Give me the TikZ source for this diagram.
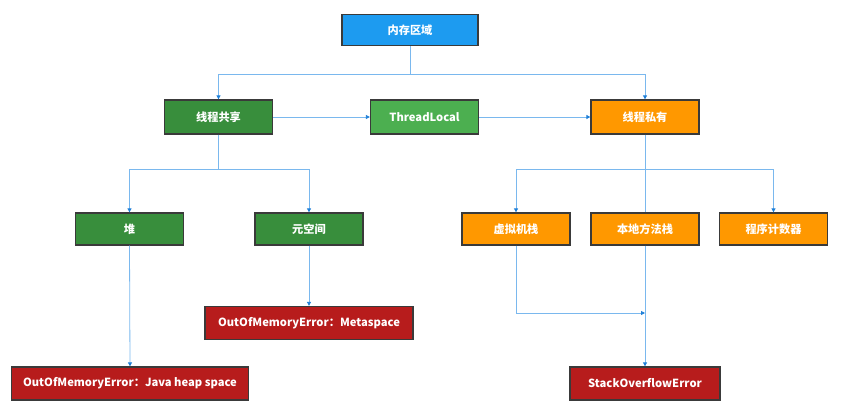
\documentclass[tikz,border=0pt]{standalone}
\usepackage{fontspec}
\setmainfont{Noto Sans CJK SC}
\usepackage{xcolor}
\usetikzlibrary{arrows.meta, positioning, calc}
\definecolor{memblue}{HTML}{1D9BF0}
\definecolor{sharegreen}{HTML}{388E3C}
\definecolor{localgreen}{HTML}{4CAF50}
\definecolor{privorange}{HTML}{FF9800}
\definecolor{errred}{HTML}{B71C1C}
\definecolor{linkblue}{HTML}{7AB8EE}
\definecolor{tipblue}{HTML}{1E7FD8}
\definecolor{edgegray}{HTML}{3A3A3A}

\begin{document}
\begin{tikzpicture}[x=1pt, y=-1pt,
            region/.style={rectangle, draw=edgegray, line width=1.3pt, minimum width=108pt, minimum height=32pt, align=center, text=white, font=\fontsize{11.2}{13}\selectfont\bfseries},
            error/.style={region, fill=errred, minimum height=33pt},
            link/.style={draw=linkblue, line width=0.8pt, -{Triangle[length=4pt, width=4pt, color=tipblue]}},
            plain/.style={draw=linkblue, line width=0.8pt}
        ]
            \useasboundingbox (0,0) rectangle (854,420);

% Top level
            \node[region, fill=memblue, minimum width=136pt, minimum height=31pt] (mem_area) at (410,30) {内存区域};

% Second level
            \node[region, fill=sharegreen, minimum height=34pt] (shared) at (218.5,117) {线程共享};
            \node[region, fill=localgreen, minimum height=34pt] (thread_local) at (424.5,117) {ThreadLocal};
            \node[region, fill=privorange, minimum height=34pt] (private) at (645,117) {线程私有};

% Shared areas
            \node[region, fill=sharegreen] (heap) at (129.5,229) {堆};
            \node[region, fill=sharegreen] (metaspace) at (309,229) {元空间};

% Private areas
            \node[region, fill=privorange] (vm_stack) at (516,229) {虚拟机栈};
            \node[region, fill=privorange] (native_stack) at (645,229) {本地方法栈};
            \node[region, fill=privorange] (pc_reg) at (773.5,229) {程序计数器};

% Errors
            \node[error, minimum width=208pt] (oom_meta) at (309,323) {OutOfMemoryError：Metaspace};
            \node[error, minimum width=237pt] (oom_heap) at (130,383.5) {OutOfMemoryError：Java heap space};
            \node[error, minimum width=150pt] (so_error) at (645,383.5) {StackOverflowError};

% Split points
            \coordinate (top_split) at (410,74);
            \coordinate (shared_split) at (218.5,169);
            \coordinate (private_split) at (645,169);
            \coordinate (stack_merge) at (645,313);

% Connectors
            \draw[plain] (mem_area.south) -- (top_split);
            \draw[link] (top_split) -| (shared.north);
            \draw[link] (top_split) -| (private.north);
            \draw[link] (shared.east) -- (thread_local.west);
            \draw[link] (thread_local.east) -- (private.west);

            \draw[plain] (shared.south) -- (shared_split);
            \draw[link] (shared_split) -| (heap.north);
            \draw[link] (shared_split) -| (metaspace.north);
            \draw[link] (heap.south) -- (oom_heap.north);
            \draw[link] (metaspace.south) -- (oom_meta.north);

            \draw[plain] (private.south) -- (native_stack.north);
            \draw[link] (private_split) -| (vm_stack.north);
            \draw[link] (private_split) -| (pc_reg.north);
            \draw[link] (vm_stack.south) |- (stack_merge);
            \draw[link] (native_stack.south) -- (so_error.north);

        \end{tikzpicture}
\end{document}
